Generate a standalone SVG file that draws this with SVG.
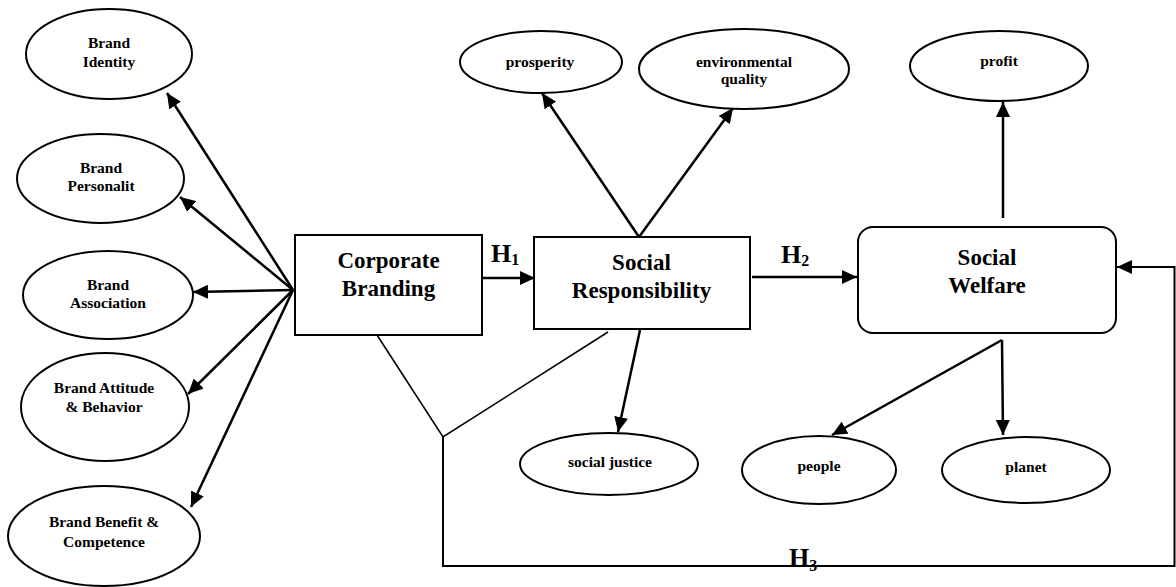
<svg xmlns="http://www.w3.org/2000/svg" width="1176" height="587" viewBox="0 0 1176 587">
<style>
text{font-family:"Liberation Serif","Times New Roman",serif;font-weight:bold;fill:#000;text-anchor:middle}
.s{font-size:15.5px}
.b{font-size:23px}
.h{font-size:26px;text-anchor:start}
.sub{font-size:16px}
ellipse,rect{fill:#fff;stroke:#000;stroke-width:2}
.ar{stroke:#000;stroke-width:2.5;fill:none;marker-end:url(#ah)}
.ln{stroke:#000;stroke-width:1.6;fill:none}
.lp{stroke:#000;stroke-width:2;fill:none}
</style>
<defs>
<marker id="ah" markerUnits="userSpaceOnUse" markerWidth="16" markerHeight="14" refX="15" refY="7" orient="auto">
<path d="M0,0 L15,7 L0,14 z" fill="#000"/>
</marker>
</defs>
<rect x="0" y="0" width="1176" height="587" style="stroke:none;fill:#fff"/>
<g id="connectors">
<line class="ar" x1="293" y1="290" x2="167" y2="93"/>
<line class="ar" x1="293" y1="290" x2="180" y2="197"/>
<line class="ar" x1="293" y1="290" x2="193" y2="292"/>
<line class="ar" x1="293" y1="290" x2="188" y2="394"/>
<line class="ar" x1="293" y1="290" x2="191" y2="507"/>
<line class="ar" x1="482" y1="278" x2="535" y2="278"/>
<line class="ar" x1="752" y1="277" x2="857" y2="277"/>
<line class="ar" x1="639" y1="237" x2="542" y2="93"/>
<line class="ar" x1="639" y1="237" x2="733" y2="108"/>
<line class="ar" x1="640" y1="330" x2="618" y2="432"/>
<polyline class="ln" points="377,335 443,437 608,332"/>
<polyline class="lp" points="443,437 443,566 1174.5,566 1174.5,267 1117,267" style="marker-end:url(#ah)"/>
<line class="ar" x1="1003" y1="218" x2="1003" y2="102"/>
<line class="ar" x1="1002" y1="340" x2="832" y2="435"/>
<line class="ar" x1="1002" y1="340" x2="1003" y2="435"/>
<text class="h" x="491" y="262">H<tspan class="sub" dy="3">1</tspan></text>
<text class="h" x="781" y="263">H<tspan class="sub" dy="3">2</tspan></text>
<text class="h" x="789" y="566">H<tspan class="sub" dy="5">3</tspan></text>
</g>
<g id="brand-identity"><ellipse cx="109" cy="54" rx="83" ry="45"/><text class="s" x="109" y="48">Brand</text><text class="s" x="109" y="67">Identity</text></g>
<g id="brand-personalit"><ellipse cx="100.5" cy="178.5" rx="83.5" ry="44.5"/><text class="s" x="101" y="173">Brand</text><text class="s" x="101" y="191">Personalit</text></g>
<g id="brand-association"><ellipse cx="108" cy="295" rx="85" ry="44"/><text class="s" x="108" y="290">Brand</text><text class="s" x="108" y="308">Association</text></g>
<g id="brand-attitude"><ellipse cx="105" cy="407" rx="84" ry="54"/><text class="s" x="104" y="393">Brand Attitude</text><text class="s" x="104" y="412">&amp; Behavior</text></g>
<g id="brand-benefit"><ellipse cx="104" cy="536" rx="96" ry="50"/><text class="s" x="104" y="527">Brand Benefit &amp;</text><text class="s" x="104" y="547">Competence</text></g>
<g id="corporate-branding"><rect x="295" y="235" width="187" height="100"/><text class="b" x="388.5" y="268">Corporate</text><text class="b" x="388.5" y="296">Branding</text></g>
<g id="social-responsibility"><rect x="534" y="237" width="216" height="92"/><text class="b" x="641.5" y="270">Social</text><text class="b" x="641.5" y="298">Responsibility</text></g>
<g id="social-welfare"><rect x="858" y="227" width="258" height="106" rx="15" ry="15"/><text class="b" x="987" y="265">Social</text><text class="b" x="987" y="293">Welfare</text></g>
<g id="prosperity"><ellipse cx="541" cy="62" rx="81" ry="31"/><text class="s" x="540" y="67">prosperity</text></g>
<g id="environmental-quality"><ellipse cx="744" cy="69" rx="105" ry="40"/><text class="s" x="744" y="67">environmental</text><text class="s" x="744" y="84">quality</text></g>
<g id="profit"><ellipse cx="999" cy="66" rx="89" ry="35"/><text class="s" x="999" y="66">profit</text></g>
<g id="social-justice"><ellipse cx="609" cy="464" rx="89" ry="31"/><text class="s" x="610" y="467">social justice</text></g>
<g id="people"><ellipse cx="819" cy="470" rx="77" ry="34"/><text class="s" x="819" y="471">people</text></g>
<g id="planet"><ellipse cx="1026" cy="470" rx="84" ry="33"/><text class="s" x="1026" y="472">planet</text></g>
</svg>
